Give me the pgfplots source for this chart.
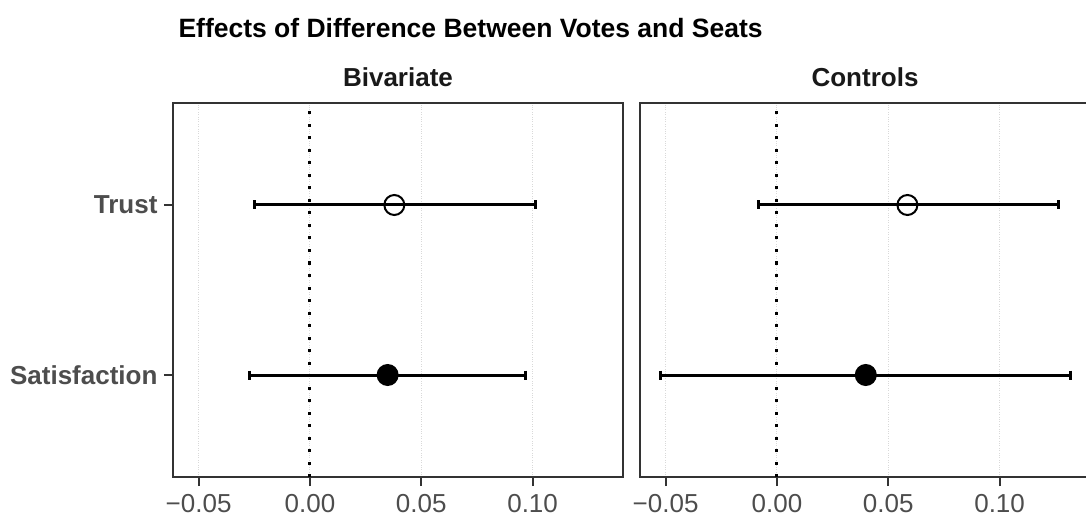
\documentclass[border=0pt]{standalone}
\usepackage{fontspec}
\setmainfont{Liberation Sans}
\usepackage{pgfplots}
\pgfplotsset{compat=1.18}
\usepackage{pgfplotstable}
\definecolor{gray30}{HTML}{4D4D4D}
\definecolor{gray20}{HTML}{333333}
\definecolor{gridc}{HTML}{D9D9D9}

\pgfplotstableread{
y est lo hi cls
2 0.0379 -0.0250 0.1011 open
1 0.0349 -0.0270 0.0969 filled
}\bivtab
\pgfplotstableread{
y est lo hi cls
2 0.0586 -0.0085 0.1263 open
1 0.0399 -0.0523 0.1318 filled
}\contab

\pgfplotsset{panel/.style={
  scale only axis, width=450pt, height=374pt, anchor=south west,
  xmin=-0.0615, xmax=0.1406, ymin=0.4, ymax=2.6,
  axis line style={draw=gray20, line width=2pt},
  tick style={draw=gray20, line width=2.2pt},
  tick align=outside, major tick length=9pt,
  xtick={-0.05,0,0.05,0.1},
  xticklabels={−0.05,0.00,0.05,0.10},
  xtick pos=bottom, ytick pos=left,
  xticklabel style={font=\fontsize{26}{30}\selectfont, text=gray30, yshift=-5pt},
  yticklabel style={font=\fontsize{26}{30}\selectfont\bfseries, text=gray30, xshift=-3pt},
  xmajorgrids, major grid style={draw=gridc, dotted, line width=1pt},
  clip=true,
}}
\newcommand{\panelplots}[1]{%
  \addplot[black, line width=3pt, dash pattern=on 3pt off 9.5pt, forget plot] coordinates {(0,0.4) (0,2.6)};
  \addplot[draw=none, forget plot, error bars/.cd, x dir=both, x explicit, error mark=none,
    error bar style={draw=black, line width=3pt}]
    table[x=est, y=y, x error plus expr=\thisrow{hi}-\thisrow{est}, x error minus expr=\thisrow{est}-\thisrow{lo}] {#1};
  \addplot[only marks, mark=|, mark size=4.5pt, mark options={line width=3pt, draw=black}] table[x=lo, y=y] {#1};
  \addplot[only marks, mark=|, mark size=4.5pt, mark options={line width=3pt, draw=black}] table[x=hi, y=y] {#1};
  \addplot[scatter, only marks, scatter src=explicit symbolic,
    scatter/classes={open={mark=o, draw=black, line width=2pt, mark size=10pt},
                     filled={mark=*, draw=black, fill=black, line width=2pt, mark size=10pt}}]
    table[x=est, y=y, meta=cls] {#1};
}

\begin{document}
\begin{tikzpicture}
\begin{axis}[panel, at={(173pt,43pt)}, ytick={1,2}, yticklabels={Satisfaction,Trust}]
\panelplots{\bivtab}
\end{axis}
\begin{axis}[panel, at={(640pt,43pt)}, ytick=\empty]
\panelplots{\contab}
\end{axis}
\node[anchor=base west, font=\fontsize{26.5}{30}\selectfont\bfseries] at (175pt,482pt) {Effects of Difference Between Votes and Seats};
\node[anchor=base, font=\fontsize{26}{30}\selectfont\bfseries, text=black!90] at (398pt,433pt) {Bivariate};
\node[anchor=base, font=\fontsize{26}{30}\selectfont\bfseries, text=black!90] at (865pt,433pt) {Controls};
\pgfresetboundingbox
\useasboundingbox (0,0) rectangle (1086pt,520pt);
\end{tikzpicture}
\end{document}
